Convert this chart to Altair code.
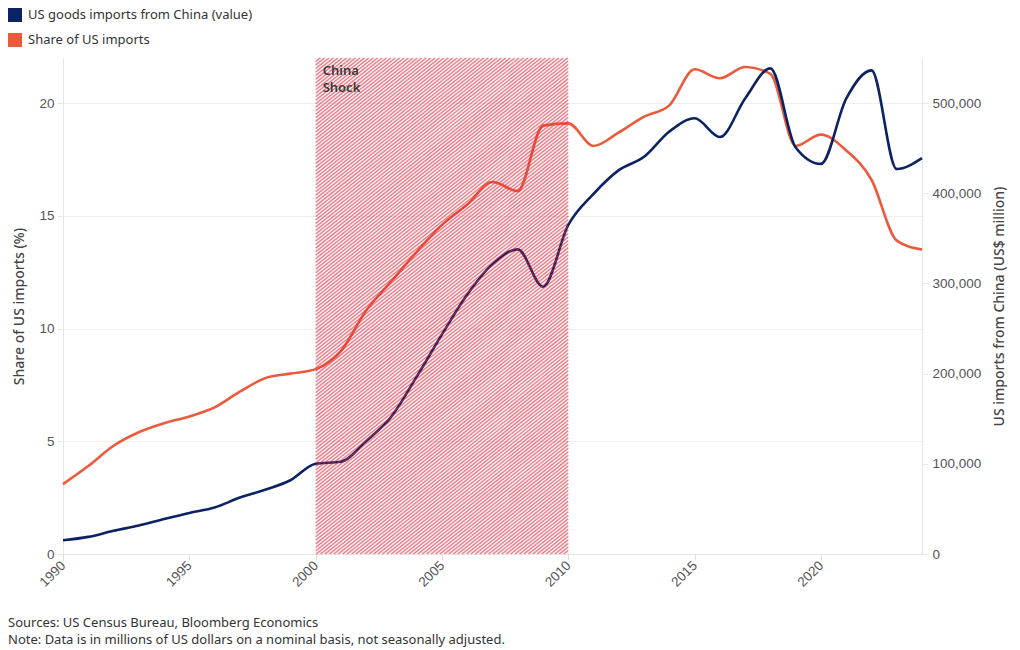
import altair as alt
import pandas as pd

# ---------------- data ----------------
years = list(range(1990, 2025))
china_imports = [15237, 18969, 25728, 31540, 38787, 45543, 51513, 62558, 71169, 81788,
                 100018, 102278, 125193, 152436, 196682, 243470, 287774, 321443, 337773, 296374,
                 364953, 399371, 425619, 440430, 468475, 483202, 462420, 505165, 538514, 450760,
                 432548, 504935, 536307, 426885, 438947]
share = [3.1, 3.9, 4.8, 5.4, 5.8, 6.1, 6.5, 7.2, 7.8, 8.0,
         8.2, 9.0, 10.8, 12.1, 13.4, 14.6, 15.5, 16.5, 16.1, 19.0,
         19.1, 18.1, 18.7, 19.4, 19.9, 21.5, 21.1, 21.6, 21.3, 18.1,
         18.6, 17.9, 16.6, 13.9, 13.5]
series_names = ["US goods imports from China (value)", "Share of US imports"]
series_colors = ["#0b2263", "#ec5a3c"]
shock = [2000, 2010]
shock_label = "China\nShock"
x_ticks = [1990, 1995, 2000, 2005, 2010, 2015, 2020]
left_ticks = [0, 5, 10, 15, 20]
right_ticks = [0, 100000, 200000, 300000, 400000, 500000]
footer = ["Sources: US Census Bureau, Bloomberg Economics",
          "Note: Data is in millions of US dollars on a nominal basis, not seasonally adjusted."]

# ---------------- layout ----------------
W, H = 859, 496
X_DOM = [1990, 2024]
L_DOM = [0, 22]
R_DOM = [0, 550000]

df_val = pd.DataFrame({"year": years, "value": china_imports, "series": series_names[0]})
df_share = pd.DataFrame({"year": years, "value": share, "series": series_names[1]})
df_shock = pd.DataFrame({"start": [shock[0]], "end": [shock[1]], "label": [shock_label]})

TICK_FONT = "Liberation Sans"
TEXT_FONT = "Noto Sans"

xscale = alt.Scale(domain=X_DOM, nice=False, zero=False)
xaxis = alt.Axis(values=x_ticks, format="d", labelAngle=315, labelAlign="right",
                 labelBaseline="middle", labelFont=TICK_FONT, labelFontSize=13.5,
                 labelColor="#555555", tickColor="#dddddd", tickSize=6,
                 domainColor="#e6e6e6", grid=False, title=None, labelPadding=3)
lscale = alt.Scale(domain=L_DOM, nice=False)

# small square stroked thickly -> reads as a filled square
legend_sq = "M-1,-1H1V1H-1Z"

line_color = alt.Color("series:N",
                       scale=alt.Scale(domain=series_names, range=series_colors),
                       legend=alt.Legend(title=None, orient="none", legendX=-55, legendY=-50,
                                         direction="vertical", labelFont=TEXT_FONT,
                                         labelFontSize=13, labelColor="#333333",
                                         labelLimit=0,
                                         symbolType=legend_sq, symbolSize=49,
                                         symbolStrokeWidth=7, labelOffset=6,
                                         rowPadding=-24, padding=0))

share_line = alt.Chart(df_share).mark_line(interpolate="monotone", strokeWidth=2.6,
                                           strokeJoin="round").encode(
    x=alt.X("year:Q", scale=xscale, axis=xaxis),
    y=alt.Y("value:Q", scale=lscale,
            axis=alt.Axis(orient="left", title="Share of US imports (%)", values=left_ticks,
                          titleFont=TEXT_FONT, titleFontSize=14, titleFontWeight=500,
                          titleColor="#444444", labelFont=TICK_FONT, labelFontSize=13.5,
                          labelColor="#555555", tickColor="#e6e6e6", tickSize=6,
                          domainColor="#e6e6e6", grid=True, gridColor="#eeeeee",
                          titlePadding=12, labelPadding=3)),
    color=line_color,
)

value_line = alt.Chart(df_val).mark_line(interpolate="monotone", strokeWidth=2.6,
                                         strokeJoin="round").encode(
    x=alt.X("year:Q", scale=xscale, axis=xaxis),
    y=alt.Y("value:Q", scale=alt.Scale(domain=R_DOM, nice=False),
            axis=alt.Axis(orient="right", title="US imports from China (US$ million)",
                          values=right_ticks, format=",d", titleAngle=270,
                          titleBaseline="top",
                          titleFont=TEXT_FONT, titleFontSize=14, titleFontWeight=500,
                          titleColor="#444444", labelFont=TICK_FONT, labelFontSize=13.5,
                          labelColor="#555555", tickColor="#e6e6e6", tickSize=6,
                          domainColor="#e6e6e6", grid=False, titlePadding=12,
                          labelPadding=4)),
    color=line_color,
)

hatch_bg = alt.Chart(df_shock).mark_rect(color="#e8424f", opacity=0.07).encode(
    x=alt.X("start:Q", scale=xscale, axis=xaxis),
    x2="end:Q",
    y=alt.Y("y0:Q", scale=lscale, axis=None),
    y2="y1:Q",
).transform_calculate(y0=str(L_DOM[0]), y1=str(L_DOM[1]))

# diagonal hatch: 45-degree stripes clipped to the shock window
k = (H / (L_DOM[1] - L_DOM[0])) / (W / (X_DOM[1] - X_DOM[0]))
step = 0.175
c0 = shock[0] - L_DOM[1] / k
n = int((shock[1] - c0) / step) + 2
stripes = alt.Chart(alt.sequence(0, n, as_="i")).transform_calculate(
    c=f"{c0} + datum.i * {step}"
).transform_calculate(
    x0=f"max({shock[0]}, datum.c)",
    x1=f"min({shock[1]}, datum.c + {L_DOM[1]} / {k})",
).transform_filter("datum.x1 > datum.x0").transform_calculate(
    y0=f"(datum.x0 - datum.c) * {k}",
    y1=f"(datum.x1 - datum.c) * {k}",
).mark_rule(color="#e3283c", strokeWidth=1.3, opacity=0.6).encode(
    x=alt.X("x0:Q", scale=xscale, axis=xaxis),
    x2="x1:Q",
    y=alt.Y("y0:Q", scale=lscale, axis=None),
    y2="y1:Q",
)

label = alt.Chart(df_shock).mark_text(align="left", baseline="top", dx=7, dy=7,
                                      lineBreak="\n", lineHeight=17, font=TEXT_FONT,
                                      fontSize=13, fontWeight=600, color="#3a3a3a").encode(
    x=alt.X("start:Q", scale=xscale, axis=xaxis),
    y=alt.Y("top:Q", scale=lscale, axis=None),
    text="label:N",
).transform_calculate(top=str(L_DOM[1]))

chart = alt.layer(share_line, value_line, hatch_bg, stripes, label).resolve_scale(
    y="independent"
).properties(
    width=W, height=H,
    padding={"left": 0, "top": 0, "right": 5, "bottom": 0},
    title=alt.TitleParams(text=footer, orient="bottom", anchor="start", frame="bounds",
                          font=TEXT_FONT, fontSize=13, fontWeight="normal",
                          color="#333333", lineHeight=17, offset=28),
).configure_view(stroke=None)

chart.save("out.html", embed_options={"renderer": "svg", "actions": False})
